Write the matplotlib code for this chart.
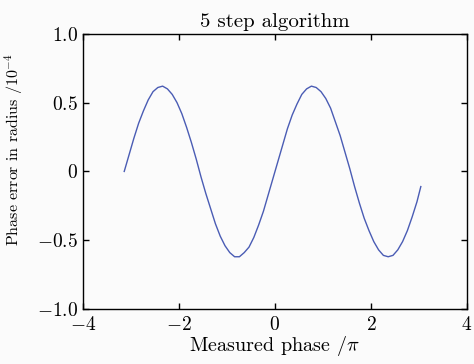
import numpy as np
import matplotlib
matplotlib.use("Agg")
import matplotlib.pyplot as plt

plt.rcParams['font.family'] = 'serif'
plt.rcParams['font.serif'] = ['cmr10', 'DejaVu Serif']
plt.rcParams['mathtext.fontset'] = 'cm'
plt.rcParams['axes.unicode_minus'] = False

# measured phase (x) and phase error (y, in 1e-4 rad)
phase = [-3.14, -3.04, -2.94, -2.84, -2.74, -2.64, -2.54, -2.44, -2.34, -2.24,
         -2.14, -2.04, -1.94, -1.84, -1.74, -1.64, -1.54, -1.44, -1.34, -1.24,
         -1.14, -1.04, -0.94, -0.84, -0.74, -0.64, -0.54, -0.44, -0.34, -0.24,
         -0.14, -0.04, 0.06, 0.16, 0.26, 0.36, 0.46, 0.56, 0.66, 0.76,
         0.86, 0.96, 1.06, 1.16, 1.26, 1.36, 1.46, 1.56, 1.66, 1.76,
         1.86, 1.96, 2.06, 2.16, 2.26, 2.36, 2.46, 2.56, 2.66, 2.76,
         2.86, 2.96, 3.04]
err = [0.00, 0.12, 0.24, 0.35, 0.44, 0.52, 0.58, 0.61, 0.62, 0.60,
       0.56, 0.50, 0.42, 0.32, 0.21, 0.09, -0.04, -0.16, -0.27, -0.38,
       -0.47, -0.54, -0.59, -0.62, -0.62, -0.59, -0.55, -0.48, -0.39, -0.29,
       -0.17, -0.05, 0.07, 0.19, 0.31, 0.41, 0.49, 0.56, 0.60, 0.62,
       0.61, 0.58, 0.53, 0.46, 0.36, 0.26, 0.14, 0.02, -0.11, -0.23,
       -0.34, -0.43, -0.51, -0.57, -0.61, -0.62, -0.61, -0.57, -0.51, -0.43,
       -0.33, -0.22, -0.11]

xticks = [-4, -2, 0, 2, 4]
xlabels = [r'$-4$', r'$-2$', r'$0$', r'$2$', r'$4$']
yticks = [-1.0, -0.5, 0, 0.5, 1.0]
ylabels = [r'$-1.0$', r'$-0.5$', r'$0$', r'$0.5$', r'$1.0$']

fig = plt.figure(figsize=(4.74, 3.64), dpi=100)
fig.patch.set_facecolor('#fbfbfb')
ax = fig.add_axes([0.175, 0.151, 0.81, 0.756])
ax.set_facecolor('#fbfbfb')

ax.plot(phase, err, color='#4a5cb4', lw=1.0)

ax.set_xlim(-4, 4)
ax.set_ylim(-1, 1)
ax.set_xticks(xticks)
ax.set_xticklabels(xlabels)
ax.set_yticks(yticks)
ax.set_yticklabels(ylabels)
ax.tick_params(direction='in', top=True, right=True, labelsize=14, length=4, width=1)
ax.tick_params(axis='x', pad=5)
for s in ax.spines.values():
    s.set_linewidth(1.0)

ax.set_title('5 step algorithm', fontsize=15, pad=5)
ax.set_xlabel(r'Measured phase /$\pi$', fontsize=14.5, labelpad=0)
ax.set_ylabel(r'Phase error in radius /10$^{-4}$', fontsize=11.5)
ax.yaxis.set_label_coords(-0.15, 0.58)

fig.savefig('out.png', dpi=100, facecolor=fig.get_facecolor())
